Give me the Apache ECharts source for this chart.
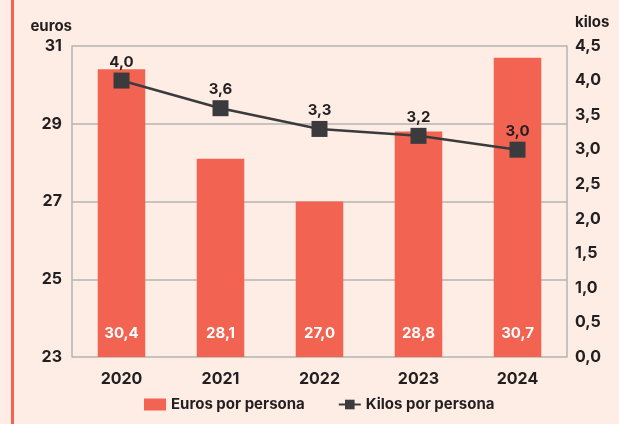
<!DOCTYPE html>
<html><head><meta charset="utf-8">
<script src="https://cdn.jsdelivr.net/npm/echarts@6/dist/echarts.min.js"></script>
<style>
html,body{margin:0;padding:0;background:#fdede5;}
#c{width:619px;height:424px;}
#bar{position:absolute;left:11px;top:0;width:3px;height:424px;background:#f26451;}
</style></head>
<body><div id="c"></div><div id="bar"></div>
<script>
const categories = ['2020','2021','2022','2023','2024'];
const eurosPorPersona = [30.4, 28.1, 27.0, 28.8, 30.7];
const kilosPorPersona = [4.0, 3.6, 3.3, 3.2, 3.0];
const seriesNames = ['Euros por persona', 'Kilos por persona'];
const leftAxisName = 'euros';
const rightAxisName = 'kilos';

const fmt = v => v.toFixed(1).replace('.', ',');
const font = 'Inter';
const dark = '#231f20';
const W = 'bold';

const chart = echarts.init(document.getElementById('c'));
chart.setOption({
  backgroundColor: '#fdede5',
  animation: false,
  textStyle: {fontFamily: font},
  grid: {left: 72, right: 52, top: 46, bottom: 67},
  legend: {
    bottom: 7, left: 139, itemGap: 33, itemWidth: 22, itemHeight: 12,
    textStyle: {fontFamily: font, fontWeight: W, fontSize: 15, color: dark},
    data: [{name: seriesNames[0], icon: 'rect'}, {name: seriesNames[1]}]
  },
  xAxis: {
    type: 'category', data: categories,
    axisLine: {show: false}, axisTick: {show: false},
    axisLabel: {color: dark, fontWeight: W, fontSize: 16, margin: 14}
  },
  yAxis: [
    {type: 'value', min: 23, max: 31, interval: 2,
     name: leftAxisName, nameLocation: 'end', nameGap: 12,
     nameTextStyle: {color: dark, fontWeight: W, fontSize: 15, align: 'right', padding: [0, 0, 0, 0]},
     axisLine: {show: true, lineStyle: {color: '#b3b3b3', width: 1.5}},
     axisTick: {show: false},
     axisLabel: {color: dark, fontWeight: W, fontSize: 16, margin: 10, padding: [8, 0, 0, 0]},
     splitLine: {show: true, lineStyle: {color: '#b3b3b3', width: 1.5}}},
    {type: 'value', min: 0, max: 4.5, interval: 0.5,
     name: rightAxisName, nameLocation: 'end', nameGap: 16,
     nameTextStyle: {color: dark, fontWeight: W, fontSize: 15, align: 'left', padding: [0, 0, 0, 8]},
     axisLine: {show: true, lineStyle: {color: '#b3b3b3', width: 1.5}},
     axisTick: {show: false},
     axisLabel: {color: dark, fontWeight: W, fontSize: 16, margin: 8, padding: [8, 0, 0, 0], formatter: v => fmt(v)},
     splitLine: {show: false}}
  ],
  series: [
    {name: seriesNames[0], type: 'bar', data: eurosPorPersona, yAxisIndex: 0,
     barWidth: '48%', itemStyle: {color: '#f26451'},
     label: {show: true, position: 'insideBottom', distance: 16, color: '#fff',
             fontWeight: W, fontSize: 15, formatter: p => fmt(p.value)}},
    {name: seriesNames[1], type: 'line', data: kilosPorPersona, yAxisIndex: 1,
     symbol: 'rect', symbolSize: 16,
     lineStyle: {color: '#3b3b3d', width: 2.5}, itemStyle: {color: '#3b3b3d'},
     label: {show: true, position: 'top', distance: 3, color: dark,
             fontWeight: W, fontSize: 15, formatter: p => fmt(p.value)}}
  ]
});
</script></body></html>
